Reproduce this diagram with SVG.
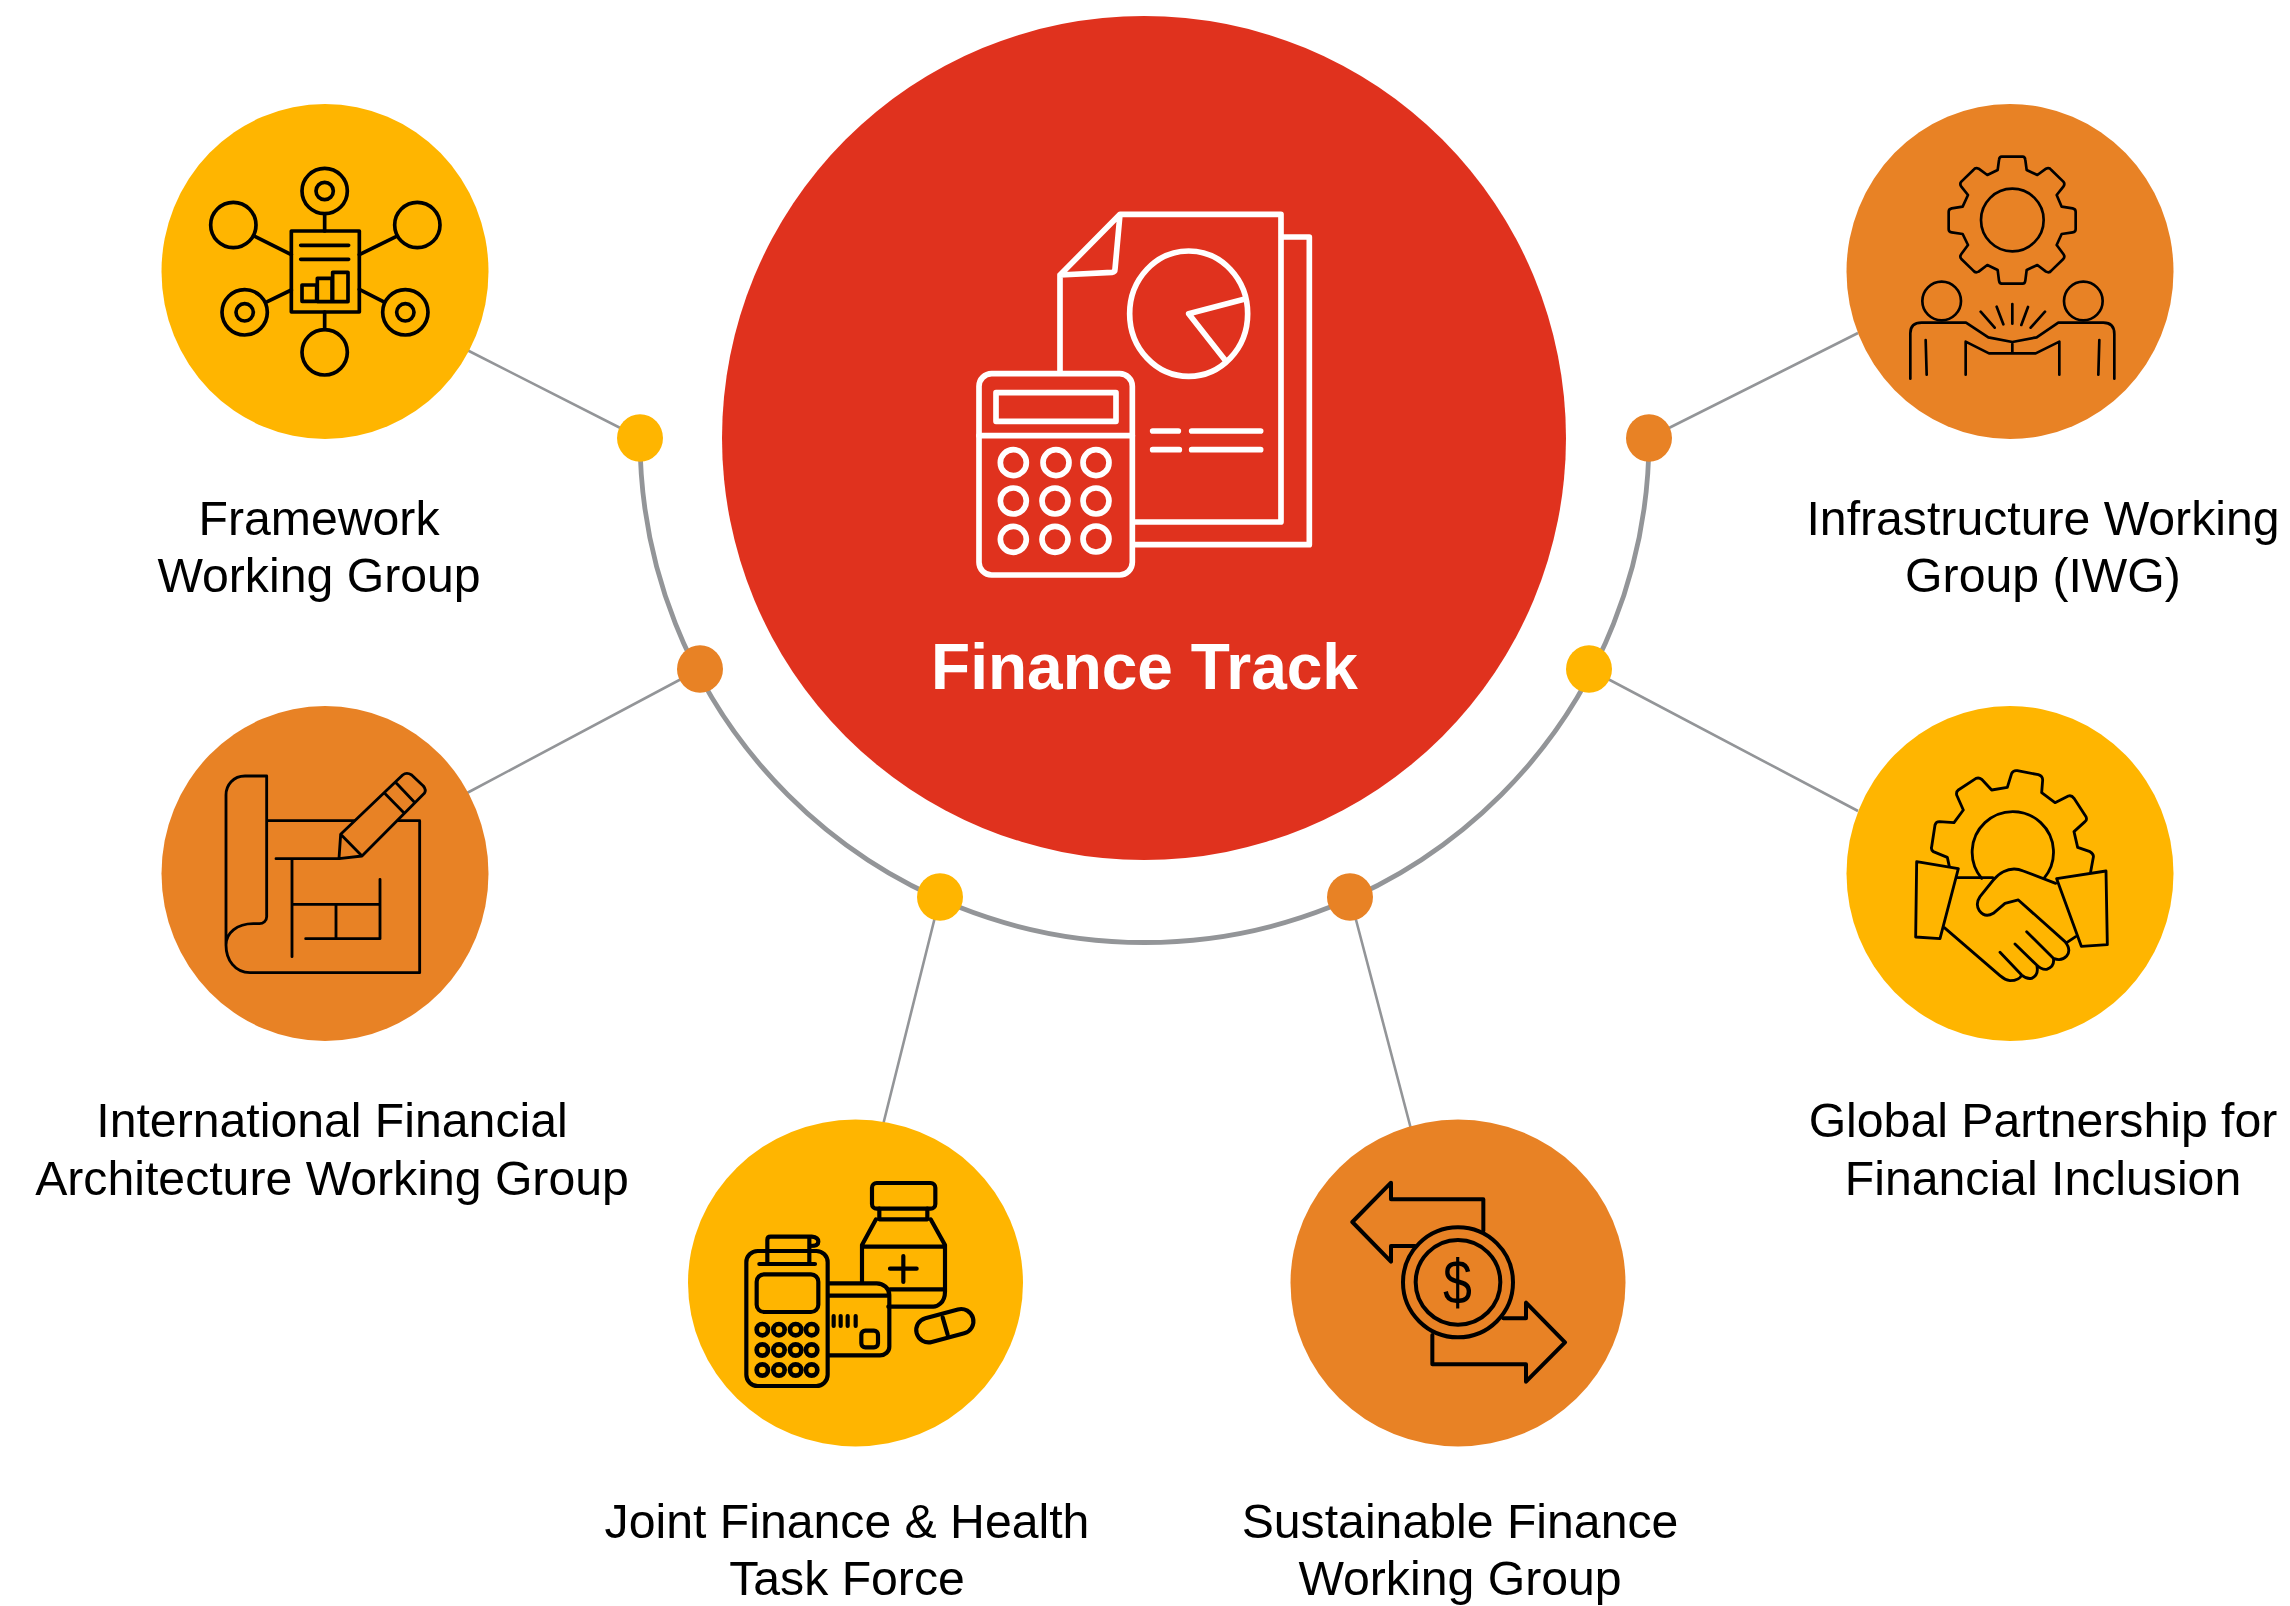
<svg xmlns="http://www.w3.org/2000/svg" width="2290" height="1606" viewBox="0 0 2290 1606">
<style>
.y{fill:#FFB500}.o{fill:#E88225}
.c{fill:none;stroke:#939598;stroke-width:2.6}
.arc{fill:none;stroke:#939598;stroke-width:4.8}
.i{fill:none;stroke:#000;stroke-linejoin:round;stroke-linecap:round}
.w{fill:none;stroke:#fff;stroke-width:17;stroke-linejoin:round;stroke-linecap:round}
.l{font-family:"Liberation Sans",Arial,sans-serif;font-size:48.2px;fill:#000;text-anchor:middle}
.t{font-family:"Liberation Sans",Arial,sans-serif;font-size:64px;font-weight:700;fill:#fff;text-anchor:middle}
</style>
<rect width="2290" height="1606" fill="#fff"/>
<g id="connectors">
<path class="arc" d="M640 438A504.5 504.5 0 0 0 1649 438"/>
<path class="c" d="M640 438L467 350M700 669L467 793M940 897L883 1125M1350 897L1411 1129M1649 438L1858 333M1589 669L1858 811"/>
</g>
<g id="finance-track">
<circle cx="1144" cy="438" r="422" fill="#E0321E"/>
<g transform="translate(900 180) scale(.33333)" class="w">
<path d="M1150 171H1228V1094H703M480 575V285L660 103H1143V1026H703M660 103L645 268Q645 276 636 277L480 285"/>
<ellipse cx="866" cy="401" rx="177" ry="188"/>
<path d="M1032 358L866 401L975 540M758 753H835M875 753H1082M758 809H838M875 809H1082"/>
<rect x="237" y="581" width="460" height="604" rx="38"/>
<rect x="288" y="638" width="360" height="86"/>
<path d="M237 767H697"/>
<circle cx="340" cy="848" r="39"/><circle cx="468" cy="848" r="39"/><circle cx="588" cy="848" r="39"/>
<circle cx="340" cy="963" r="39"/><circle cx="465" cy="963" r="39"/><circle cx="588" cy="963" r="39"/>
<circle cx="340" cy="1078" r="39"/><circle cx="465" cy="1078" r="39"/><circle cx="588" cy="1077" r="39"/>
</g>
<text class="t" x="1144.5" y="689">Finance Track</text>
</g>
<g id="dots">
<ellipse class="y" cx="640" cy="438" rx="23" ry="23.7"/><ellipse class="o" cx="700" cy="669" rx="23" ry="23.7"/>
<ellipse class="y" cx="940" cy="897" rx="23" ry="23.7"/><ellipse class="o" cx="1350" cy="897" rx="23" ry="23.7"/>
<ellipse class="y" cx="1589" cy="669" rx="23" ry="23.7"/><ellipse class="o" cx="1649" cy="438" rx="23" ry="23.7"/>
</g>
<g id="framework">
<ellipse class="y" cx="325" cy="271.5" rx="163.5" ry="167.5"/>
<g transform="translate(180 130) scale(.33333)" class="i" stroke-width="11">
<circle cx="434" cy="183" r="68"/><circle cx="434" cy="183" r="26"/><circle cx="160" cy="285" r="68"/><circle cx="712" cy="285" r="68"/>
<circle cx="194" cy="547" r="68"/><circle cx="194" cy="547" r="26"/><circle cx="676" cy="547" r="68"/><circle cx="676" cy="547" r="26"/><circle cx="434" cy="667" r="68"/>
<rect x="334" y="303" width="204" height="243"/>
<path d="M362 346H506M362 388H506M366 465H410V514H366ZM412 445H456V515H412ZM458 427H504V515H458ZM434 252V303M226 320L334 374M648 320L538 374M262 515L334 480M610 515L538 478M434 546V598"/>
</g>
<text class="l" x="319" y="535">Framework</text><text class="l" x="319" y="592">Working Group</text>
</g>
<g id="ifa">
<ellipse class="o" cx="325" cy="873.5" rx="163.5" ry="167.5"/>
<g transform="translate(190 750) scale(.33333)" class="i" stroke-width="8.5">
<path d="M230 78H165C130 78 108 105 108 135V585C108 630 135 668 180 668H689V212H230M230 78V500C230 512 220 521 208 521H190C140 521 108 550 108 585"/>
<path d="M258 326H447M306 326V620M306 463H570M570 388V566H347M438 463V566"/>
<path fill="#E88225" d="M452 253L447 326L516 318L703 130Q710 120 700 108L665 75Q650 65 638 75ZM452 253L516 318M584 130L640 187M618 98L672 155"/>
</g>
<text class="l" x="332" y="1137">International Financial</text><text class="l" x="332" y="1195">Architecture Working Group</text>
</g>
<g id="jfhtf">
<ellipse class="y" cx="855.5" cy="1283" rx="167.5" ry="163.5"/>
<g transform="translate(720 1160) scale(.33333)" class="i" stroke-width="12.5">
<rect x="456" y="69" width="190" height="77" rx="14"/>
<path d="M478 146V178H622V146M468 178L426 255V365M632 178L675 255V395C675 430 650 440 640 440H505M426 260H675M510 388H675M510 326H590M550 288V366"/>
<path d="M325 370H470C490 370 508 385 508 405V560C508 575 495 586 480 586H325M325 407H508M341 468V498M362 468V498M383 468V498M407 468V498"/>
<rect x="424" y="512" width="50" height="50" rx="12"/>
<rect x="79" y="273" width="244" height="405" rx="34"/>
<rect x="110" y="343" width="185" height="113" rx="22"/>
<path d="M142 310V240Q142 230 152 230H275Q295 232 295 245Q295 258 270 258M268 235V310M118 312H285"/>
<g stroke-width="14">
<circle cx="127" cy="509" r="17"/><circle cx="177" cy="509" r="17"/><circle cx="227" cy="509" r="17"/><circle cx="275" cy="509" r="17"/>
<circle cx="127" cy="570" r="17"/><circle cx="177" cy="570" r="17"/><circle cx="227" cy="570" r="17"/><circle cx="275" cy="570" r="17"/>
<circle cx="127" cy="630" r="17"/><circle cx="177" cy="630" r="17"/><circle cx="227" cy="630" r="17"/><circle cx="275" cy="630" r="17"/>
</g>
<rect x="587" y="460" width="175" height="74" rx="37" transform="rotate(-15 675 497)"/>
<path d="M668 472L683 524"/>
</g>
<text class="l" x="847" y="1538">Joint Finance &amp; Health</text><text class="l" x="847" y="1595">Task Force</text>
</g>
<g id="sfwg">
<ellipse class="o" cx="1458" cy="1283" rx="167.5" ry="163.5"/>
<g transform="translate(1320 1160) scale(.33333)" class="i" stroke-width="12">
<path d="M490 213V118H213V68L97 186L213 305V258H285M337 525V613H618V665L735 547L618 428V475H550"/>
<circle cx="414" cy="367" r="165"/><circle cx="414" cy="367" r="127"/>
<text transform="translate(412 432) scale(.82 1)" text-anchor="middle" font-family="'Liberation Sans',sans-serif" font-size="190" fill="#000" stroke="none">$</text>
</g>
<text class="l" x="1460" y="1538">Sustainable Finance</text><text class="l" x="1460" y="1595">Working Group</text>
</g>
<g id="iwg">
<ellipse class="o" cx="2010" cy="271.5" rx="163.5" ry="167.5"/>
<g transform="translate(1890 140) scale(.33333)" class="i" stroke-width="8">
<path d="M335 50H398Q405 50 406 60L410 90L442 105L468 86Q478 82 484 90L520 125Q526 132 520 140L500 165L515 200L548 205Q557 207 557 215V268Q557 276 548 277L515 282L500 315L520 342Q526 350 520 357L484 392Q478 400 468 395L442 375L410 390L406 422Q405 431 398 431H335Q328 431 327 422L323 390L292 375L266 395Q256 400 250 392L214 357Q208 350 214 342L234 315L218 282L185 277Q176 276 176 268V215Q176 207 185 205L218 200L234 165L214 140Q208 132 214 125L250 90Q256 82 266 86L292 105L323 90L327 60Q328 50 335 50Z"/>
<circle cx="367" cy="240" r="94"/><circle cx="155" cy="483" r="58"/><circle cx="580" cy="483" r="58"/>
<path d="M61 716V580Q61 548 95 548H228L295 592L367 606L440 592L505 548H640Q673 548 673 582V716M227 704V605L297 640H437L508 605V704M367 606V640M107 600L110 704M628 600L625 704M272 515L314 563M320 500L340 553M367 492V551M414 501L394 555M465 515L422 563"/>
</g>
<text class="l" x="2043" y="535">Infrastructure Working</text><text class="l" x="2043" y="592">Group (IWG)</text>
</g>
<g id="gpfi">
<ellipse class="y" cx="2010" cy="873.5" rx="163.5" ry="167.5"/>
<g transform="translate(1890 750) scale(.33333)" class="i" stroke-width="8.5">
<path d="M275 385A122 122 0 1 1 462 385M178 350L172 322L130 305Q122 298 125 290L135 225Q138 215 148 215L192 218L220 180L200 135Q198 125 205 120L258 85Q268 82 275 88L305 120L352 112L365 70Q370 60 382 62L445 74Q458 78 458 90L455 128L495 158L535 138Q545 135 552 145L588 200Q592 210 585 215L552 245L563 292L600 305Q612 312 610 322L602 365"/>
<path d="M80 335L205 356L150 566L77 561ZM500 386L648 363L652 584L574 589Z"/>
<path d="M200 383H308M497 400L400 363Q370 350 340 365Q325 372 310 390L270 440Q255 462 268 482Q285 505 310 490L345 460L385 450L525 575Q545 600 530 618Q515 635 490 625L410 545M490 625Q495 650 470 658Q455 660 440 645L375 582M440 645Q448 675 425 685Q410 688 395 675L330 607M395 675Q388 692 360 692Q345 690 330 677L163 533M530 578L557 560"/>
</g>
<text class="l" x="2043" y="1137">Global Partnership for</text><text class="l" x="2043" y="1195">Financial Inclusion</text>
</g>
</svg>
